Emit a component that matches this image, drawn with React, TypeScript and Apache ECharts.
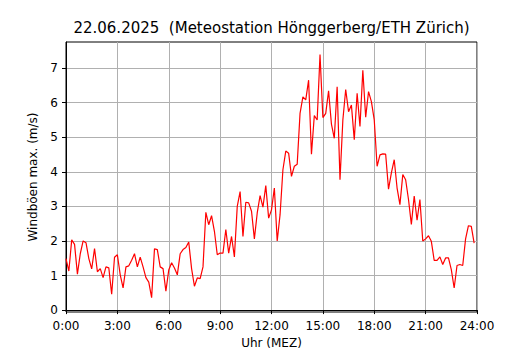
import React, { useEffect, useRef } from "react";
import * as echarts from "echarts";

// Wind gust maxima (m/s), one value per 10 minutes
const gusts00to06 = [
  1.49, 1.13, 2.03, 1.9, 1.04, 1.63,
  2.0, 1.95, 1.49, 1.19, 1.78, 1.11,
  1.2, 0.94, 1.25, 1.22, 0.46, 1.53,
  1.6, 1.02, 0.64, 1.25, 1.28, 1.44,
  1.63, 1.25, 1.53, 1.25, 0.94, 0.81,
  0.36, 1.77, 1.75, 1.25, 1.2, 0.55,
];
const gusts06to12 = [
  1.16, 1.37, 1.22, 1.02, 1.63, 1.75,
  1.81, 1.97, 1.2, 0.69, 0.93, 0.91,
  1.25, 2.83, 2.47, 2.73, 2.28, 1.6,
  1.65, 1.65, 2.33, 1.65, 2.13, 1.54,
  3.0, 3.43, 2.13, 3.12, 3.1, 2.86,
  2.06, 2.81, 3.31, 2.98, 3.6, 2.66,
];
const gusts12to18 = [
  2.9, 3.53, 2.0, 2.76, 4.06, 4.6,
  4.54, 3.87, 4.16, 4.22, 5.69, 6.17,
  6.08, 6.65, 4.51, 5.63, 5.5, 7.39,
  5.57, 5.69, 6.34, 5.38, 4.97, 6.46,
  3.77, 5.5, 6.38, 5.74, 5.93, 4.93,
  6.27, 5.31, 6.94, 5.58, 6.32, 6.03,
];
const gusts18to24 = [
  5.5, 4.16, 4.49, 4.52, 4.51, 3.5,
  3.97, 4.35, 3.53, 3.05, 3.92, 3.77,
  3.2, 2.48, 3.3, 2.6, 3.2, 2.0,
  2.06, 2.15, 1.99, 1.44, 1.44, 1.54,
  1.32, 1.51, 1.51, 1.17, 0.64, 1.29,
  1.32, 1.29, 2.06, 2.44, 2.42, 1.94,
];

const stepMinutes = 10;
const xTickLabels = ["0:00", "3:00", "6:00", "9:00", "12:00", "15:00", "18:00", "21:00", "24:00"];
const yTicks = [0, 1, 2, 3, 4, 5, 6, 7];

const titleText = "22.06.2025  (Meteostation Hönggerberg/ETH Zürich)";
const xName = "Uhr (MEZ)";
const yName = "Windböen max. (m/s)";

export default function App() {
  const ref = useRef<HTMLDivElement>(null);

  useEffect(() => {
    if (!ref.current) return;
    const chart = echarts.init(ref.current, undefined, { renderer: "svg" });
    const values = [...gusts00to06, ...gusts06to12, ...gusts12to18, ...gusts18to24];
    const data = values.map((v, i) => [i * stepMinutes, v]);
    const font = "DejaVu Sans";

    chart.setOption({
      animation: false,
      backgroundColor: "#ffffff",
      textStyle: { fontFamily: font },
      grid: {
        left: 66,
        right: 53,
        top: 42,
        bottom: 38,
        containLabel: false,
        outerBoundsMode: "none",
        show: true,
        borderColor: "#000000",
        borderWidth: 1,
        backgroundColor: "transparent",
      },
      graphic: [
        {
          type: "text",
          x: 271.5,
          y: 28,
          style: {
            text: titleText,
            fontFamily: font,
            fontSize: 15,
            fill: "#000000",
            align: "center",
            verticalAlign: "middle",
          },
        },
      ],
      xAxis: {
        type: "value",
        min: 0,
        max: 1440,
        interval: 180,
        name: xName,
        nameLocation: "middle",
        nameGap: 24,
        nameTextStyle: { fontFamily: font, fontSize: 12, color: "#000000" },
        axisLine: { show: true, lineStyle: { color: "#000000", width: 1 } },
        axisTick: { show: true, inside: false, length: 4, lineStyle: { color: "#000000" } },
        axisLabel: {
          margin: 8,
          fontFamily: font,
          fontSize: 12,
          color: "#000000",
          formatter: (v: number) => xTickLabels[Math.round(v / 180)] ?? "",
        },
        splitLine: { show: true, lineStyle: { color: "#b0b0b0", width: 1 } },
      },
      yAxis: {
        type: "value",
        min: -0.055,
        max: 7.755,
        name: yName,
        nameLocation: "middle",
        nameGap: 24,
        nameTextStyle: { fontFamily: font, fontSize: 12, color: "#000000" },
        axisLine: { show: true, lineStyle: { color: "#000000", width: 1 } },
        axisTick: {
          show: true,
          inside: false,
          length: 4,
          lineStyle: { color: "#000000" },
          customValues: yTicks,
        },
        axisLabel: {
          margin: 8,
          fontFamily: font,
          fontSize: 12,
          color: "#000000",
          customValues: yTicks,
        },
        splitLine: { show: true, lineStyle: { color: "#b0b0b0", width: 1 } },
      },
      series: [
        {
          type: "line",
          data,
          showSymbol: false,
          symbol: "none",
          lineStyle: { color: "#ff0000", width: 1.2 },
          z: 3,
        },
      ],
    });

    return () => chart.dispose();
  }, []);

  return (
    <div
      ref={ref}
      style={{ position: "absolute", left: 0, top: 0, width: 530, height: 350 }}
    />
  );
}
